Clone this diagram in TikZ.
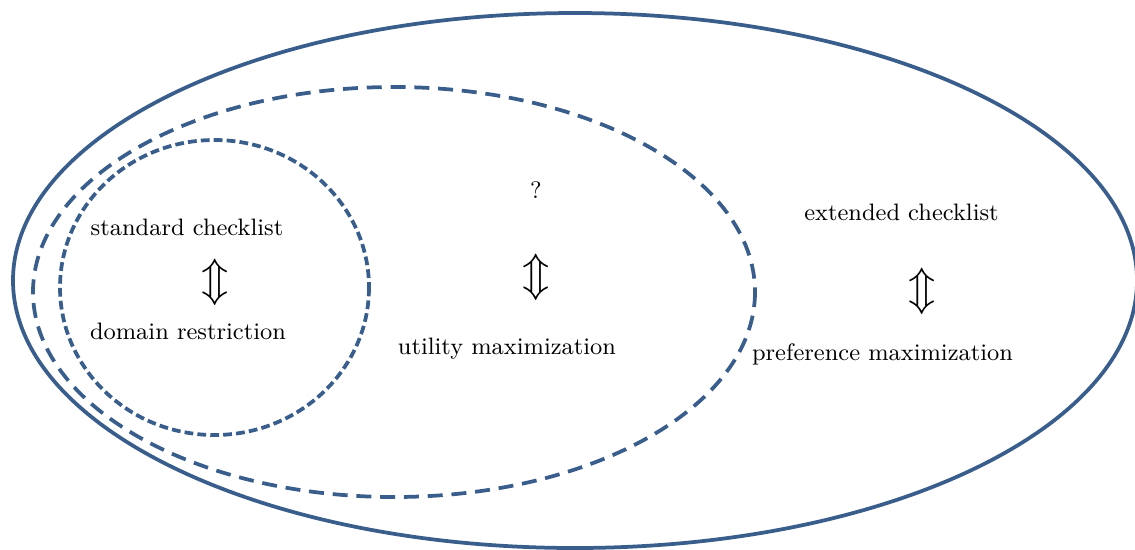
\documentclass[tikz,border=0pt]{standalone}
\usepackage{tikz}
\definecolor{setblue}{HTML}{3A5E8C}
\begin{document}
\begin{tikzpicture}[x=0.3868pt,y=-0.3868pt,
  setline/.style={draw=setblue,line width=1.45pt},
  middash/.style={setline,dash pattern=on 5.8pt off 3.4pt},
  smalldash/.style={setline,dash pattern=on 3.4pt off 1.6pt},
  lbl/.style={inner sep=0pt,font=\fontsize{9.2}{11}\selectfont},
  eqv/.style={inner sep=0pt,font=\fontsize{18.5}{20}\selectfont}]
\useasboundingbox (0,0) rectangle (1135,549);
\clip (0,0) rectangle (1135,549);
\draw[setline] (575,280.5) ellipse [x radius=562, y radius=267.5];
\draw[middash] (394,292) ellipse [x radius=361, y radius=205];
\draw[smalldash] (214.5,287.5) ellipse [x radius=154.5, y radius=147.5];
\node[lbl] (sc) at (187,227) {standard checklist};
\node[eqv] (e1) at (215,282.5) {$\Updownarrow$};
\node[lbl] (dr) at (188,331) {domain restriction};
\node[lbl] (q) at (536,190.5) {?};
\node[eqv] (e2) at (536,277) {$\Updownarrow$};
\node[lbl] (um) at (507,349) {utility maximization};
\node[lbl] (ec) at (901.5,212) {extended checklist};
\node[eqv] (e3) at (922.5,291.5) {$\Updownarrow$};
\node[lbl] (pm) at (882.5,354) {preference maximization};
\end{tikzpicture}
\end{document}
